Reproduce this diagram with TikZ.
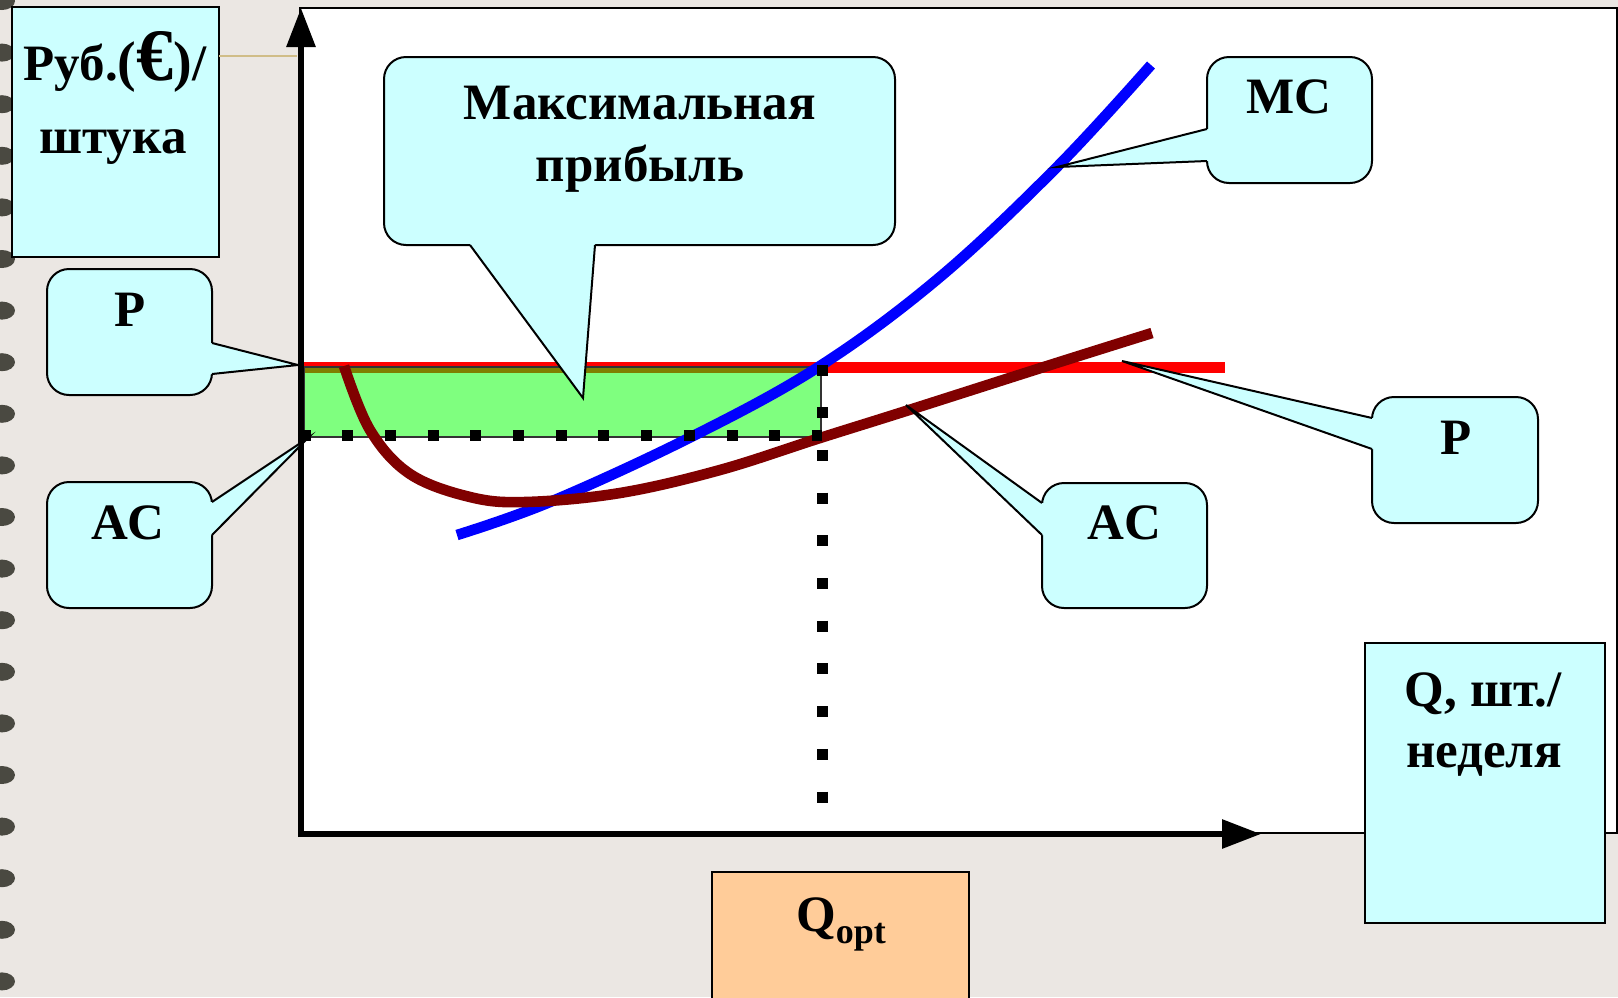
\documentclass[tikz,border=0pt]{standalone}
\usepackage{fontspec}
\setmainfont{Liberation Serif}
\usetikzlibrary{arrows.meta,calc}
\definecolor{bg}{HTML}{EBE7E3}
\definecolor{boxc}{HTML}{CCFFFF}
\definecolor{qboxc}{HTML}{FFCC99}
\definecolor{acred}{HTML}{800000}
\definecolor{tanc}{HTML}{D0BD88}
\definecolor{blobc}{HTML}{2E2E25}
\begin{document}
\begin{tikzpicture}[x=0.5pt,y=-0.5pt,
  lbl/.style={font=\fontsize{25.5}{30}\selectfont\bfseries, inner sep=0pt, anchor=base},
  cbox/.style={draw=black, line width=1pt, fill=boxc, rounded corners=11pt, inner sep=0pt, outer sep=0pt},
  sbox/.style={draw=black, line width=1pt, fill=boxc, inner sep=0pt, outer sep=0pt},
  ptrfill/.style={fill=boxc},
  ptrline/.style={draw=black, line width=1pt, line join=miter},
  axis/.style={line width=3pt, -{Triangle[length=19.5pt,width=14pt]}},
  dots/.style={line width=5.5pt, dash pattern=on 5.5pt off 15.85pt}]
\useasboundingbox (0,0) rectangle (1618,997);
\fill[bg] (0,0) rectangle (1618,997);
% spiral binding
\foreach \k in {0,...,19}
  \fill[blobc, opacity=0.85] (2,51.6*\k+1) ellipse [x radius=6.5pt, y radius=4.5pt];
% plot area
\draw[fill=white, line width=0.8pt] (300,8) rectangle (1617,833);
% y label box
\node[sbox, minimum width=103.5pt, minimum height=125pt] (yl) at (115.5,132) {};
\node[lbl] (ylt1) at (115,80) {Руб.{\fontsize{28}{28}\selectfont(}{\fontsize{37}{37}\selectfont €}{\fontsize{28}{28}\selectfont)}/};
\node[lbl] (ylt2) at (113,153) {штука};
\coordinate (O) at (301,834);
\coordinate (Ytop) at (301,8);
\coordinate (Xend) at (1261,834);
\draw[tanc, line width=1pt] (yl.east |- 0,56) -- (297,56);
% red price line
\coordinate (p0) at (304,367);
\coordinate (p1) at (1225,367);
\draw[red, line width=5.5pt] (p0) -- (p1);
% profit rectangle
\draw[fill={rgb,255:red,0;green,255;blue,0}, fill opacity=0.5, draw=black!80, line width=0.6pt] (304,367) rectangle (821,437);
% curves
\draw[blue, line width=5.3pt] plot[smooth, tension=0.6] coordinates {(457,535) (550,502) (691,437) (820,366) (940,277) (1057,167) (1151,65)};
\draw[acred, line width=5.3pt] plot[smooth, tension=0.6] coordinates {(344,366) (370,430) (410,474) (470,497) (526,502) (620,493) (720,470) (820,438) (906,411) (1047,366) (1152,333)};
% dotted lines
\coordinate (Qtop) at (822,370);
\coordinate (Qbot) at (822,806);
\coordinate (Aleft) at (305,435);
\coordinate (Aright) at (822,435);
\draw[dots] ($(Aleft)+(-5.5,0)$) -- (Aright);
\draw[dots] ($(Qtop)+(0,-5.5)$) -- (Qbot);
% axes
\draw[axis] ($(O)+(0,3)$) -- (Ytop);
\draw[axis] ($(O)+(3,0)$) -- (Xend);
% Q label box
\node[sbox, minimum width=120pt, minimum height=140pt] (ql) at (1485,783) {};
\node[lbl] (qlt1) at (1483,706) {Q, шт./};
\node[lbl] (qlt2) at (1484,767) {неделя};
% Qopt box
\node[draw=black, line width=1pt, fill=qboxc, inner sep=0pt, outer sep=0pt, minimum width=128.5pt, minimum height=80pt] (qo) at (840.5,952) {};
\node[lbl] (qot) at (841,931) {Q{\fontsize{18}{18}\selectfont\raisebox{-6pt}{opt}}};
% callouts
\coordinate (tlp) at (298,365);
\coordinate (tla) at (308,438);
\coordinate (tmp) at (583,398);
\coordinate (tmc) at (1057,167);
\coordinate (trp) at (1122,361);
\coordinate (tra) at (906,405);
% left P
\node[cbox, minimum width=82.5pt, minimum height=63pt] (lp) at (129.5,332) {};
\fill[ptrfill] ($(lp.east)+(-6,11)$) -- ($(lp.east)+(0,11)$) -- (tlp) -- ($(lp.east)+(0,42)$) -- ($(lp.east)+(-6,42)$) -- cycle;
\draw[ptrline] ($(lp.east)+(0,11)$) -- (tlp) -- ($(lp.east)+(0,42)$);
\node[lbl] (lpt) at (130,326) {P};
% left AC
\node[cbox, minimum width=82.5pt, minimum height=63pt] (la) at (129.5,545) {};
\fill[ptrfill] ($(la.east)+(-6,-43)$) -- ($(la.east)+(0,-43)$) -- (tla) -- ($(la.east)+(0,-10)$) -- ($(la.east)+(-6,-10)$) -- cycle;
\draw[ptrline] ($(la.east)+(0,-43)$) -- (tla) -- ($(la.east)+(0,-10)$);
\node[lbl] (lat) at (128,539) {AC};
% max profit
\node[cbox, minimum width=255.5pt, minimum height=94pt] (mp) at (639.5,151) {};
\fill[ptrfill] ($(mp.south)+(-169.5,-6)$) -- ($(mp.south)+(-169.5,0)$) -- (tmp) -- ($(mp.south)+(-44.5,0)$) -- ($(mp.south)+(-44.5,-6)$) -- cycle;
\draw[ptrline] ($(mp.south)+(-169.5,0)$) -- (tmp) -- ($(mp.south)+(-44.5,0)$);
\node[lbl] (mpt1) at (640,119) {Максимальная};
\node[lbl] (mpt2) at (640,181) {прибыль};
% MC
\node[cbox, minimum width=82.5pt, minimum height=63pt] (mc) at (1289.5,120) {};
\fill[ptrfill] ($(mc.west)+(6,9)$) -- ($(mc.west)+(0,9)$) -- (tmc) -- ($(mc.west)+(0,41)$) -- ($(mc.west)+(6,41)$) -- cycle;
\draw[ptrline] ($(mc.west)+(0,9)$) -- (tmc) -- ($(mc.west)+(0,41)$);
\node[lbl] (mct) at (1289,113) {MC};
% right P
\node[cbox, minimum width=83pt, minimum height=63pt] (rp) at (1455,460) {};
\fill[ptrfill] ($(rp.west)+(6,-42)$) -- ($(rp.west)+(0,-42)$) -- (trp) -- ($(rp.west)+(0,-11)$) -- ($(rp.west)+(6,-11)$) -- cycle;
\draw[ptrline] ($(rp.west)+(0,-42)$) -- (trp) -- ($(rp.west)+(0,-11)$);
\node[lbl] (rpt) at (1456,454) {P};
% right AC
\node[cbox, minimum width=82.5pt, minimum height=62.5pt] (ra) at (1124.5,545.5) {};
\fill[ptrfill] ($(ra.west)+(6,-42.5)$) -- ($(ra.west)+(0,-42.5)$) -- (tra) -- ($(ra.west)+(0,-10.5)$) -- ($(ra.west)+(6,-10.5)$) -- cycle;
\draw[ptrline] ($(ra.west)+(0,-42.5)$) -- (tra) -- ($(ra.west)+(0,-10.5)$);
\node[lbl] (rat) at (1124,539) {AC};
\end{tikzpicture}
\end{document}
